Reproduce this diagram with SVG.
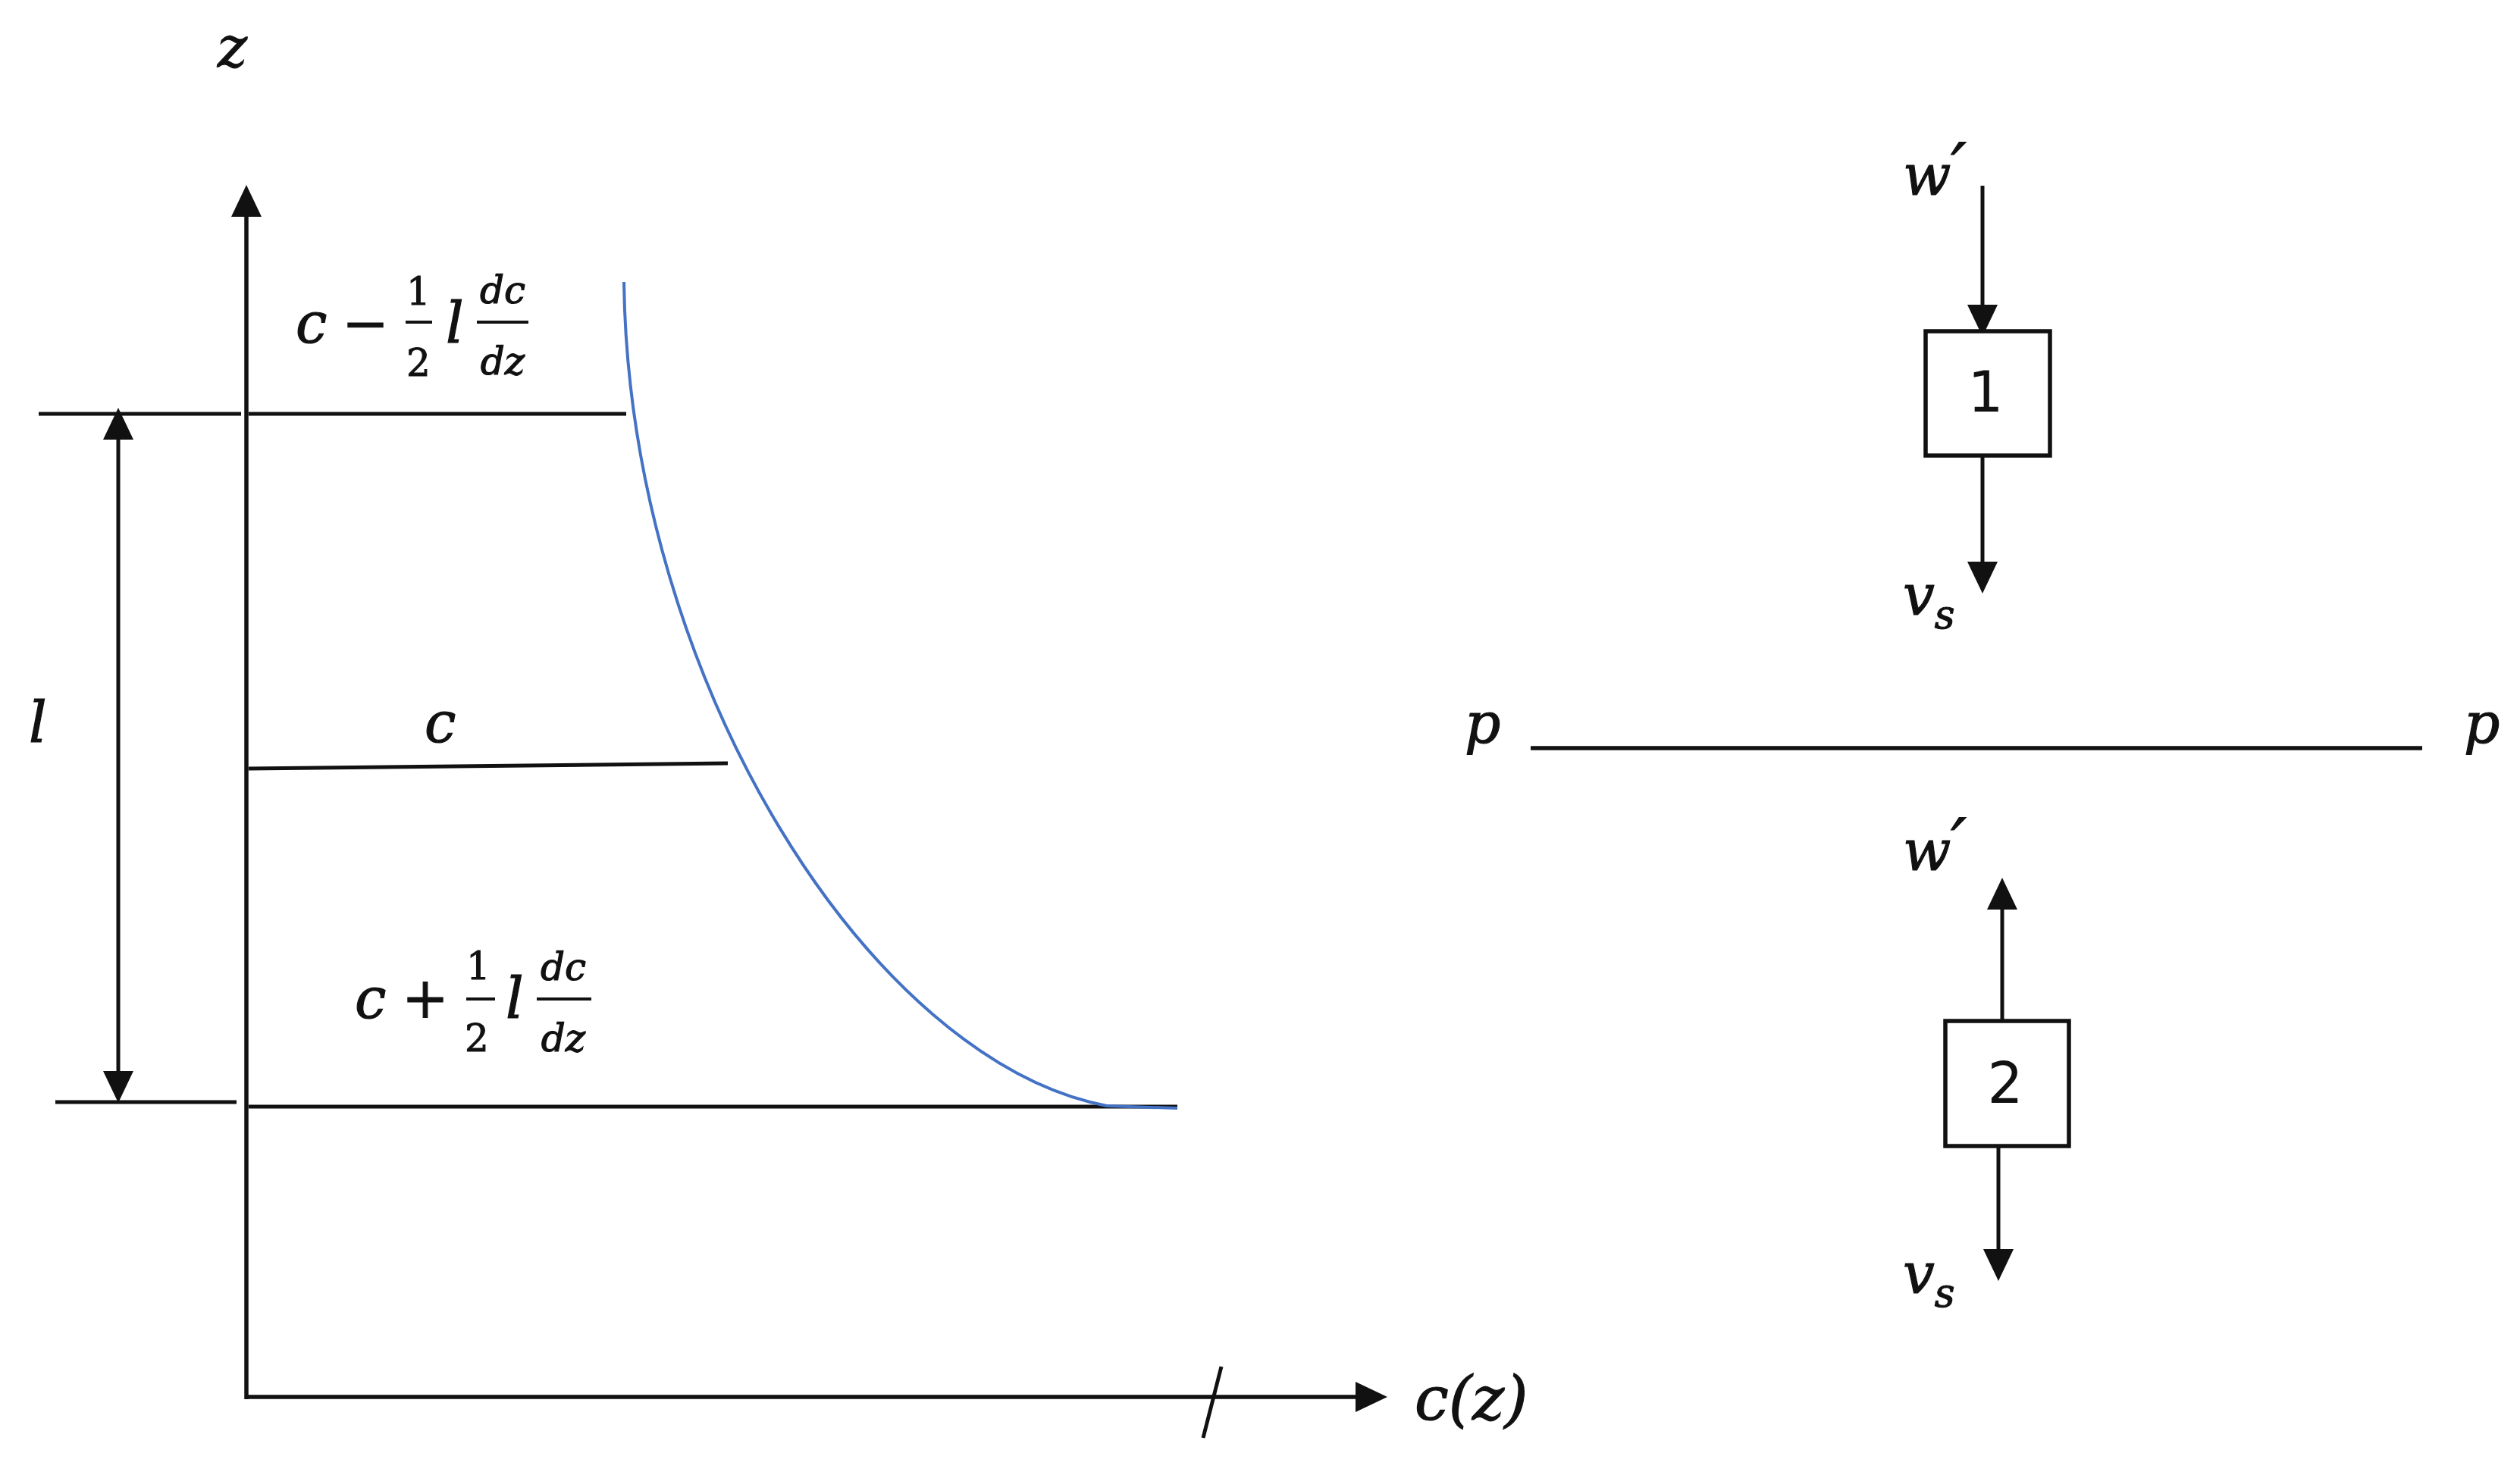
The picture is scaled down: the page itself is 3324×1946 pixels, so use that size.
<svg xmlns="http://www.w3.org/2000/svg" width="3324" height="1946" viewBox="0 0 3324 1946">
<style>
.ln{stroke:#111;stroke-width:5.5;fill:none}
.thin{stroke:#111;stroke-width:5;fill:none}
.bar{stroke:#111;stroke-width:4}
.curve{stroke:#4472C4;stroke-width:4;fill:none}
.m{font-family:"DejaVu Serif","Liberation Serif",serif;font-style:italic;fill:#111;stroke:#111;stroke-width:1.2}
.n{font-family:"DejaVu Serif","Liberation Serif",serif;fill:#111;stroke:#111;stroke-width:1}
.big{font-size:74px}
.fr{font-size:50px}
.sub{font-size:52px}
.box{stroke:#111;stroke-width:5.5;fill:#fff}
.dig{font-family:"DejaVu Sans","Liberation Sans",sans-serif;font-size:74px;fill:#111;text-anchor:middle}
</style>
<defs>
<marker id="ah" viewBox="0 -22 44 44" markerWidth="44" markerHeight="44" refX="0" refY="0" markerUnits="userSpaceOnUse" orient="auto-start-reverse">
<path d="M0,-20 L42,0 L0,20 Z" fill="#111"/>
</marker>
</defs>
<rect width="3324" height="1946" fill="#fff"/>
<g id="connectors">
<line class="ln" x1="325" y1="1846" x2="325" y2="286" marker-end="url(#ah)"/>
<line class="ln" x1="323" y1="1843" x2="1788" y2="1843" marker-end="url(#ah)"/>
<line class="thin" x1="1587" y1="1897" x2="1611" y2="1803"/>
<line class="thin" x1="51" y1="546" x2="318" y2="546"/>
<line class="thin" x1="328" y1="546" x2="826" y2="546"/>
<line class="thin" x1="328" y1="1014" x2="960" y2="1007"/>
<line class="thin" x1="73" y1="1454" x2="312" y2="1454"/>
<line class="thin" x1="328" y1="1460" x2="1553" y2="1460"/>
<line class="thin" x1="156" y1="580" x2="156" y2="1413" marker-start="url(#ah)" marker-end="url(#ah)"/>
<path class="curve" d="M823,372 C830,900 1150,1400 1460,1459 L1553,1462"/>
<line class="ln" x1="2019" y1="987" x2="3195" y2="987"/>
<line class="thin" x1="2615" y1="245" x2="2615" y2="402" marker-end="url(#ah)"/>
<line class="thin" x1="2615" y1="601" x2="2615" y2="741" marker-end="url(#ah)"/>
<line class="thin" x1="2641" y1="1347" x2="2641" y2="1200" marker-end="url(#ah)"/>
<line class="thin" x1="2636" y1="1512" x2="2636" y2="1648" marker-end="url(#ah)"/>
</g>
<g id="axis-labels">
<text class="m big" x="287" y="88">z</text>
<text class="m big" x="1866" y="1873" style="font-size:80px">c(z)</text>
<text class="m big" x="38" y="979">l</text>
<text class="m big" x="560" y="979">c</text>
</g>
<g id="label-top">
<text class="m big" x="390" y="452">c</text>
<text class="n big" x="482" y="452" text-anchor="middle">−</text>
<text class="n fr" x="552" y="402" text-anchor="middle">1</text>
<line class="bar" x1="535" y1="425" x2="570" y2="425"/>
<text class="n fr" x="552" y="496" text-anchor="middle">2</text>
<text class="m big" x="588" y="452">l</text>
<text class="m fr" x="663" y="400" text-anchor="middle">dc</text>
<line class="bar" x1="629" y1="425" x2="697" y2="425"/>
<text class="m fr" x="663" y="494" text-anchor="middle">dz</text>
</g>
<g id="label-bottom">
<text class="m big" x="468" y="1343">c</text>
<text class="n big" x="561" y="1343" text-anchor="middle">+</text>
<text class="n fr" x="631" y="1292" text-anchor="middle">1</text>
<line class="bar" x1="615" y1="1318" x2="653" y2="1318"/>
<text class="n fr" x="629" y="1387" text-anchor="middle">2</text>
<text class="m big" x="667" y="1343">l</text>
<text class="m fr" x="743" y="1293" text-anchor="middle">dc</text>
<line class="bar" x1="708" y1="1318" x2="780" y2="1318"/>
<text class="m fr" x="743" y="1387" text-anchor="middle">dz</text>
</g>
<g id="node-1">
<rect class="box" x="2540" y="437" width="164" height="164"/>
<text class="dig" x="2619" y="543">1</text>
</g>
<g id="node-2">
<rect class="box" x="2566" y="1347" width="163" height="165"/>
<text class="dig" x="2645" y="1455">2</text>
</g>
<g id="flow-labels">
<text class="m big" x="2510" y="257">w<tspan style="font-size:90px" dy="-4">′</tspan></text>
<text class="m big" x="2510" y="811">v<tspan class="sub" dy="18">s</tspan></text>
<text class="m big" x="1932" y="980">p</text>
<text class="m big" x="3250" y="980">p</text>
<text class="m big" x="2510" y="1148">w<tspan style="font-size:90px" dy="-4">′</tspan></text>
<text class="m big" x="2510" y="1706">v<tspan class="sub" dy="18">s</tspan></text>
</g>
</svg>
